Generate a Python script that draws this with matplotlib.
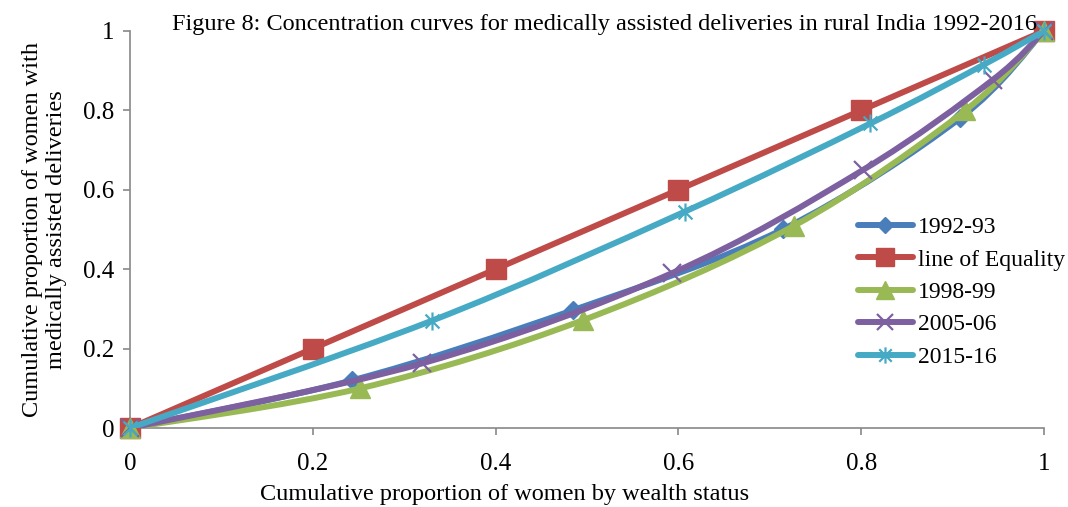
import numpy as np
import matplotlib
matplotlib.use('Agg')
import matplotlib.pyplot as plt
from matplotlib.path import Path
from matplotlib.patches import PathPatch
from matplotlib.lines import Line2D

plt.rcParams['font.family'] = ['Liberation Serif', 'DejaVu Serif']

# cumulative share of women (x) vs cumulative share of assisted deliveries (y)
x_9293 = [0, 0.243, 0.485, 0.714, 0.908, 1]
y_9293 = [0, 0.120, 0.297, 0.500, 0.780, 1]
x_equal = [0, 0.2, 0.4, 0.6, 0.8, 1]
y_equal = [0, 0.2, 0.4, 0.6, 0.8, 1]
x_9899 = [0, 0.252, 0.496, 0.727, 0.914, 1]
y_9899 = [0, 0.100, 0.272, 0.510, 0.800, 1]
x_0506 = [0, 0.320, 0.593, 0.802, 0.944, 1]
y_0506 = [0, 0.163, 0.390, 0.650, 0.877, 1]
x_1516 = [0, 0.330, 0.607, 0.810, 0.934, 1]
y_1516 = [0, 0.270, 0.545, 0.767, 0.915, 1]

labels = ['1992-93', 'line of Equality', '1998-99', '2005-06', '2015-16']
colors = ['#4A7EBB', '#BE4B48', '#98B954', '#7D60A0', '#46AAC5']

# excel style asterisk: an x with a vertical bar through it
star = Path([(-1, -1), (1, 1), (-1, 1), (1, -1), (0, -1.3), (0, 1.3)],
            [Path.MOVETO, Path.LINETO, Path.MOVETO, Path.LINETO,
             Path.MOVETO, Path.LINETO])
markers = ['D', 's', '^', 'x', star]
msizes = [9, 14, 14, 13, 13]


def smooth_path(xs, ys):
    # bezier segments like a spreadsheet "smoothed line"
    p = np.column_stack([xs, ys]).astype(float)
    n = len(p)
    verts = [p[0]]
    codes = [Path.MOVETO]
    for i in range(n - 1):
        p0 = p[i - 1] if i > 0 else p[i]
        p3 = p[i + 2] if i + 2 < n else p[i + 1]
        c1 = p[i] + (p[i + 1] - p0) / 6
        c2 = p[i + 1] - (p3 - p[i]) / 6
        verts += [c1, c2, p[i + 1]]
        codes += [Path.CURVE4] * 3
    return Path(verts, codes)


fig = plt.figure(figsize=(10.68, 5.07), dpi=100)
ax = fig.add_axes([0.1217, 0.1558, 0.8558, 0.7831])

series = [(x_9293, y_9293), (x_equal, y_equal), (x_9899, y_9899),
          (x_0506, y_0506), (x_1516, y_1516)]
handles = []
for k, (xs, ys) in enumerate(series):
    ax.add_patch(PathPatch(smooth_path(xs, ys), fill=False, ec=colors[k],
                           lw=4.3, capstyle='round', joinstyle='round',
                           zorder=2 + k))
    mew = 1.6 if k >= 3 else 1
    ax.plot(xs, ys, ls='none', marker=markers[k], ms=msizes[k],
            color=colors[k], mec=colors[k], mew=mew, zorder=2 + k,
            clip_on=False)
    handles.append(Line2D([], [], color=colors[k], lw=4.3,
                          solid_capstyle='round', marker=markers[k],
                          ms=msizes[k] * 0.9, mew=mew))

ax.set_xlim(0, 1)
ax.set_ylim(0, 1)
ax.set_xticks([0, 0.2, 0.4, 0.6, 0.8, 1])
ax.set_yticks([0, 0.2, 0.4, 0.6, 0.8, 1])
ax.set_xticklabels(['0', '0.2', '0.4', '0.6', '0.8', '1'])
ax.set_yticklabels(['0', '0.2', '0.4', '0.6', '0.8', '1'])
for s in ['top', 'right']:
    ax.spines[s].set_visible(False)
for s in ['left', 'bottom']:
    ax.spines[s].set_color('#888888')
    ax.spines[s].set_linewidth(1.2)
ax.tick_params(axis='both', colors='#888888', labelcolor='black',
               labelsize=18, length=5, width=1.2, direction='out')
ax.tick_params(axis='y', pad=6)
ax.tick_params(axis='x', pad=13)

ax.set_xlabel('Cumulative proportion of women by wealth status',
              fontsize=17.5, labelpad=6)
ax.xaxis.set_label_coords(0.41, -0.14)
ax.set_ylabel('Cumulative proportion of women with\nmedically assisted deliveries',
              fontsize=17.5, labelpad=12, linespacing=1.2)

fig.text(0.161, 0.952, 'Figure 8: Concentration curves for medically assisted '
         'deliveries in rural India 1992-2016', fontsize=17.5, va='center')

ax.legend(handles, labels, loc='upper left', bbox_to_anchor=(0.796, 0.532),
          frameon=False, fontsize=17, handlelength=2.35, handletextpad=0.2,
          labelspacing=0.46, borderaxespad=0, borderpad=0)

fig.savefig('out.png', dpi=100)
